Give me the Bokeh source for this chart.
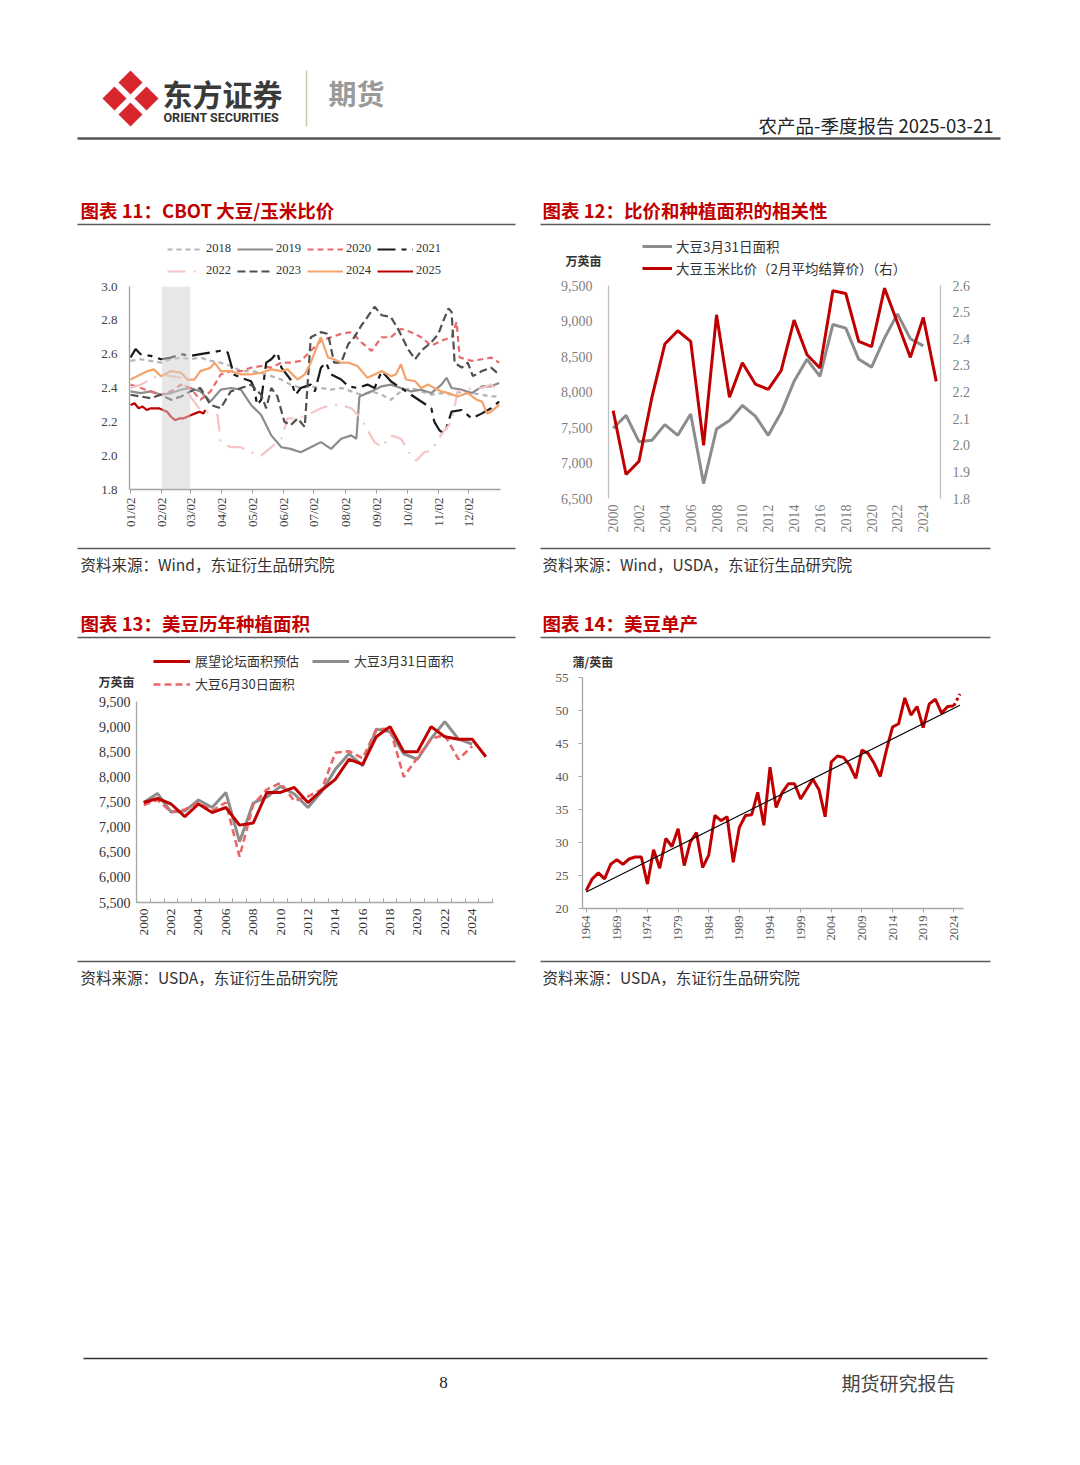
import math
from bokeh.plotting import figure
from bokeh.models import (Range1d, Label, FixedTicker, Legend, LegendItem, BoxAnnotation,
                          NumeralTickFormatter, LinearAxis)
from bokeh.layouts import column, row
from bokeh.embed import file_html
from bokeh.resources import INLINE

CJK = "Noto Sans CJK SC"
SERIF = "Liberation Serif"
RED = "#C00000"
NAN = float("nan")

# ---------------- Chart 11 data: CBOT soybean / corn ratio, by day of year ----------------
month_days = [2, 33, 61, 92, 122, 153, 183, 214, 245, 275, 306, 336]
month_labels = ["01/02", "02/02", "03/02", "04/02", "05/02", "06/02",
                "07/02", "08/02", "09/02", "10/02", "11/02", "12/02"]
shade_days = [33, 61]
ratio_ticks = [1.8, 2.0, 2.2, 2.4, 2.6, 2.8, 3.0]

d2018 = [2, 12, 22, 32, 42, 52, 61, 71, 81, 91, 101, 111, 121, 131, 141, 151, 160, 170, 180, 190,
         200, 210, 220, 230, 240, 250, 259, 269, 279, 289, 299, 309, 319, 329, 339, 349, 358, 366]
v2018 = [2.56, 2.57, 2.56, 2.55, 2.57, 2.58, 2.57, 2.58, 2.56, 2.55, 2.53, 2.50, 2.50, 2.49, 2.47,
         2.45, 2.42, 2.40, 2.41, 2.40, 2.39, 2.40, 2.38, 2.36, 2.38, 2.36, 2.33, 2.38, 2.40, 2.38,
         2.36, 2.37, 2.36, 2.38, 2.37, 2.36, 2.35, 2.35]

d2019 = [2, 12, 22, 32, 42, 52, 61, 71, 81, 91, 101, 111, 121, 131, 141, 151, 160, 170, 180, 190,
         200, 210, 220, 225, 228, 240, 250, 259, 269, 279, 289, 299, 309, 314, 319, 329, 339, 349,
         358, 366]
v2019 = [2.38, 2.37, 2.38, 2.36, 2.37, 2.39, 2.40, 2.38, 2.32, 2.39, 2.40, 2.39, 2.30, 2.24, 2.12,
         2.05, 2.04, 2.02, 2.05, 2.08, 2.04, 2.10, 2.12, 2.10, 2.35, 2.38, 2.41, 2.42, 2.40, 2.38,
         2.39, 2.37, 2.42, 2.46, 2.40, 2.39, 2.37, 2.41, 2.41, 2.43]

d2020 = [2, 12, 22, 32, 42, 52, 61, 71, 81, 91, 101, 111, 121, 131, 141, 151, 160, 170, 180, 190,
         200, 210, 220, 230, 240, 250, 259, 269, 279, 289, 299, 309, 319, 324, 327, 339, 349, 358, 366]
v2020 = [2.42, 2.40, 2.38, 2.36, 2.38, 2.42, 2.40, 2.33, 2.38, 2.48, 2.50, 2.50, 2.52, 2.53, 2.52,
         2.55, 2.55, 2.56, 2.62, 2.68, 2.70, 2.72, 2.73, 2.67, 2.62, 2.70, 2.70, 2.75, 2.73, 2.70,
         2.65, 2.68, 2.70, 2.79, 2.58, 2.56, 2.57, 2.58, 2.55]

d2021 = [2, 7, 12, 22, 32, 42, 52, 61, 71, 81, 91, 98, 104, 111, 121, 124, 127, 131, 136, 141, 147,
         151, 160, 165, 170, 180, 184, 190, 195, 200, 210, 217, 226, 236, 243, 250, 259, 269, 279,
         289, 299, 302, 307, 312, 319, 329, 339, 349, 358, 366]
v2021 = [2.58, 2.63, 2.60, 2.59, 2.57, 2.58, 2.60, 2.59, 2.60, 2.61, 2.62, 2.61, 2.48, 2.46, 2.44,
         2.40, 2.30, 2.33, 2.55, 2.57, 2.61, 2.52, 2.45, 2.36, 2.40, 2.42, 2.38, 2.52, 2.55, 2.48,
         2.45, 2.41, 2.40, 2.42, 2.40, 2.50, 2.44, 2.40, 2.36, 2.32, 2.28, 2.20, 2.15, 2.13, 2.26,
         2.27, 2.22, 2.25, 2.28, 2.32]

d2022 = [2, 12, 22, 32, 42, 52, 61, 71, 81, 88, 91, 101, 111, 121, 131, 141, 151, 157, 167, 180,
         190, 200, 210, 220, 230, 236, 243, 250, 259, 269, 274, 279, 284, 292, 299, 306, 312, 319,
         325, 339, 349, 358, 366]
v2022 = [2.40, 2.42, 2.45, 2.48, 2.47, 2.46, 2.35, 2.27, 2.25, 2.24, 2.08, 2.05, 2.05, 2.02, 2.00,
         2.05, 2.10, 2.22, 2.22, 2.25, 2.28, 2.30, 2.30, 2.28, 2.22, 2.15, 2.08, 2.05, 2.12, 2.10,
         2.05, 2.00, 1.97, 2.02, 2.03, 2.10, 2.15, 2.20, 2.38, 2.40, 2.40, 2.42, 2.38]

d2023 = [2, 12, 22, 32, 42, 52, 61, 71, 81, 91, 101, 111, 121, 131, 136, 141, 147, 154, 160, 167,
         174, 180, 190, 197, 203, 210, 217, 223, 230, 236, 243, 250, 259, 266, 276, 283, 289, 299,
         306, 311, 316, 319, 322, 329, 335, 340, 349, 358, 366]
v2023 = [2.36, 2.35, 2.34, 2.36, 2.33, 2.35, 2.38, 2.40, 2.30, 2.28, 2.38, 2.40, 2.42, 2.36, 2.28,
         2.40, 2.35, 2.20, 2.18, 2.22, 2.17, 2.70, 2.73, 2.72, 2.55, 2.55, 2.66, 2.70, 2.77, 2.82,
         2.88, 2.83, 2.82, 2.75, 2.63, 2.57, 2.62, 2.67, 2.72, 2.80, 2.87, 2.85, 2.55, 2.52, 2.55,
         2.47, 2.50, 2.52, 2.48]

d2024 = [2, 12, 19, 25, 32, 42, 52, 58, 65, 71, 81, 85, 91, 101, 111, 121, 131, 141, 151, 157, 167,
         174, 180, 187, 190, 197, 203, 210, 217, 226, 236, 243, 250, 259, 264, 269, 274, 283, 289,
         296, 302, 309, 316, 325, 335, 344, 349, 354, 358, 366]
v2024 = [2.45, 2.48, 2.50, 2.51, 2.47, 2.50, 2.49, 2.45, 2.45, 2.50, 2.52, 2.55, 2.50, 2.50, 2.48,
         2.48, 2.49, 2.51, 2.50, 2.51, 2.45, 2.48, 2.55, 2.66, 2.70, 2.58, 2.57, 2.55, 2.55, 2.53,
         2.46, 2.48, 2.50, 2.47, 2.48, 2.54, 2.45, 2.44, 2.40, 2.42, 2.40, 2.38, 2.37, 2.35, 2.37,
         2.33, 2.32, 2.25, 2.26, 2.30]

d2025 = [2, 6, 10, 14, 18, 22, 26, 30, 34, 38, 42, 46, 50, 54, 58, 62, 66, 70, 74, 76]
v2025 = [2.30, 2.31, 2.28, 2.29, 2.27, 2.28, 2.28, 2.28, 2.27, 2.26, 2.23, 2.21, 2.22, 2.22, 2.23,
         2.24, 2.25, 2.26, 2.25, 2.27]

# ---------------- Chart 12 / 13 data ----------------
years_00_24 = [2000, 2001, 2002, 2003, 2004, 2005, 2006, 2007, 2008, 2009, 2010, 2011, 2012,
               2013, 2014, 2015, 2016, 2017, 2018, 2019, 2020, 2021, 2022, 2023, 2024]
years_00_25 = years_00_24 + [2025]
area_mar31 = [7490, 7670, 7300, 7320, 7540, 7390, 7690, 6710, 7480, 7600, 7810, 7660, 7390,
              7710, 8150, 8460, 8220, 8950, 8900, 8460, 8350, 8760, 9100, 8750, 8650]
ratio_feb = [2.13, 1.89, 1.94, 2.18, 2.38, 2.43, 2.39, 2.00, 2.49, 2.18, 2.31, 2.23, 2.21,
             2.28, 2.47, 2.34, 2.29, 2.58, 2.57, 2.39, 2.37, 2.59, 2.46, 2.33, 2.48, 2.24]
area_forum = [7490, 7570, 7460, 7210, 7460, 7290, 7390, 7040, 7080, 7690, 7690, 7790, 7490,
              7730, 7950, 8350, 8250, 8800, 9000, 8500, 8500, 9000, 8800, 8750, 8750, 8400]
area_jun30 = [7440, 7540, 7300, 7350, 7480, 7330, 7490, 6410, 7450, 7750, 7880, 7520, 7610,
              7750, 8480, 8510, 8370, 8950, 8960, 8000, 8380, 8760, 8830, 8350, 8610]
area_ticks_12 = [6500, 7000, 7500, 8000, 8500, 9000, 9500]
ratio_ticks_12 = [1.8, 1.9, 2.0, 2.1, 2.2, 2.3, 2.4, 2.5, 2.6]
area_ticks_13 = [5500, 6000, 6500, 7000, 7500, 8000, 8500, 9000, 9500]
even_years = [2000, 2002, 2004, 2006, 2008, 2010, 2012, 2014, 2016, 2018, 2020, 2022, 2024]

# ---------------- Chart 14 data: US soybean yield (bu/acre) ----------------
years_64_24 = [1964, 1965, 1966, 1967, 1968, 1969, 1970, 1971, 1972, 1973, 1974, 1975, 1976,
               1977, 1978, 1979, 1980, 1981, 1982, 1983, 1984, 1985, 1986, 1987, 1988, 1989,
               1990, 1991, 1992, 1993, 1994, 1995, 1996, 1997, 1998, 1999, 2000, 2001, 2002,
               2003, 2004, 2005, 2006, 2007, 2008, 2009, 2010, 2011, 2012, 2013, 2014, 2015,
               2016, 2017, 2018, 2019, 2020, 2021, 2022, 2023, 2024]
yield_bu = [22.7, 24.5, 25.4, 24.5, 26.7, 27.4, 26.7, 27.5, 27.8, 27.8, 23.7, 28.9, 26.1,
            30.6, 29.4, 32.1, 26.5, 30.1, 31.5, 26.2, 28.1, 34.1, 33.3, 33.9, 27.0, 32.3,
            34.1, 34.2, 37.6, 32.6, 41.4, 35.3, 37.6, 38.9, 38.9, 36.6, 38.1, 39.6, 38.0,
            33.9, 42.2, 43.1, 42.9, 41.7, 39.7, 44.0, 43.5, 42.0, 40.0, 44.0, 47.5, 48.0,
            51.9, 49.3, 50.6, 47.4, 51.0, 51.7, 49.6, 50.6, 50.7]
proj_years = [2024, 2025]
proj_yield = [50.7, 52.5]
trend_years = [1964, 2025]
trend_yield = [22.5, 50.8]
yield_ticks = [20, 25, 30, 35, 40, 45, 50, 55]
five_years = [1964, 1969, 1974, 1979, 1984, 1989, 1994, 1999, 2004, 2009, 2014, 2019, 2024]

# ---------------- styles ----------------
STY11 = {"2018": ("#B5B5B5", "5 4"), "2019": ("#8C8C8C", "solid"), "2020": ("#E86A6C", "6 4"),
         "2021": ("#1A1A1A", "18 6 5 6"), "2022": ("#F6C4C4", "18 8 2 8"),
         "2023": ("#505050", "8 4"), "2024": ("#F5A36C", "solid"), "2025": (RED, "solid")}
GRAY = "#8C8C8C"
PINK = "#E8686A"


# ---------------- helpers ----------------
def no_align(p):
    if "frame_align" in p.properties():
        p.frame_align = False


def text_fig(x0, y0, w, h):
    p = figure(width=w, height=h, x_range=Range1d(x0, x0 + w), y_range=Range1d(y0 + h, y0),
               x_axis_type=None, y_axis_type=None, output_backend="svg",
               toolbar_location=None, min_border=0, title=None)
    p.outline_line_color = None
    no_align(p)
    return p


def txt(p, x, y, s, size, color="#222222", font=CJK, style="normal", align="left"):
    p.add_layout(Label(x=x, y=y, text=s, text_font=font, text_font_size=f"{size}px",
                       text_color=color, text_font_style=style, text_align=align,
                       text_baseline="middle"))


def hline(p, x0, x1, y, color="#555555", w=1.5):
    p.segment(x0=[x0], y0=[y], x1=[x1], y1=[y], line_color=color, line_width=w)


def chart_fig(w, h, l, r, t, b, xr, yr):
    p = figure(width=w, height=h, x_range=xr, y_range=yr, min_border_left=l,
               min_border_right=r, min_border_top=t, min_border_bottom=b,
               output_backend="svg", toolbar_location=None, title=None)
    p.outline_line_color = None
    p.grid.visible = False
    no_align(p)
    return p


def style_axis(ax, size, color, line_color, standoff, tick_out=0, tick_in=0):
    ax.major_label_text_font = SERIF
    ax.major_label_text_font_size = f"{size}px"
    ax.major_label_text_color = color
    ax.axis_line_color = line_color
    ax.axis_line_width = 1.3
    ax.major_tick_line_color = line_color
    ax.major_tick_out = tick_out
    ax.major_tick_in = tick_in
    ax.minor_tick_line_color = None
    ax.major_label_standoff = standoff


def legend_in(p, entries, loc, glyph_w, size, font, spacing, orientation="horizontal",
              standoff=4, item_h=14):
    # legend keys use the same line styles as the chart series (no visible data of their own)
    items = []
    for lab, color, dash, width in entries:
        r = p.line(x=[NAN], y=[NAN], line_color=color, line_dash=dash, line_width=width)
        items.append(LegendItem(label=lab, renderers=[r]))
    p.add_layout(Legend(items=items, location=loc, orientation=orientation,
                        border_line_color=None, background_fill_alpha=0, padding=0, margin=0,
                        spacing=spacing, glyph_width=glyph_w, glyph_height=item_h,
                        label_height=item_h, label_standoff=standoff, label_text_font=font,
                        label_text_font_size=f"{size}px", label_text_color="#333333"))


# ---------------- header band (page y 0..278) ----------------
hdr = text_fig(0, 0, 1072, 278)
hdr.scatter(x=[130, 114, 146, 130], y=[82, 98, 98, 114], marker="square", size=17,
            angle=math.pi / 4, fill_color="#D7262D", line_color=None)
txt(hdr, 162, 92, "东方证券", 30, "#3A3A3A", style="bold")
txt(hdr, 163, 117, "ORIENT SECURITIES", 12.5, "#333333", font="Roboto", style="bold")
hdr.segment(x0=[306], y0=[70], x1=[306], y1=[126], line_color="#CFC6AE", line_width=1.5)
txt(hdr, 328, 92, "期货", 28, "#9A9A9A", style="bold")
txt(hdr, 993, 124, "农产品-季度报告 2025-03-21", 18.5, "#222222", align="right")
hline(hdr, 77, 1000, 138, "#555555", 2.5)
txt(hdr, 80, 209, "图表 11：CBOT 大豆/玉米比价", 18.5, RED, style="bold")
txt(hdr, 542, 209, "图表 12：比价和种植面积的相关性", 18.5, RED, style="bold")
hline(hdr, 77, 515, 224, "#595959", 1.5)
hline(hdr, 540, 990, 224, "#595959", 1.5)
legend_in(hdr, [(l, STY11[l][0], STY11[l][1], 2.2) for l in ["2018", "2019", "2020", "2021"]],
          (167, 22), 36, 12.5, SERIF, 6, standoff=3)
legend_in(hdr, [(l, STY11[l][0], STY11[l][1], 2.2) for l in ["2022", "2023", "2024", "2025"]],
          (167, 0), 36, 12.5, SERIF, 6, standoff=3)
txt(hdr, 565, 260, "万英亩", 12, "#333333", style="bold")
legend_in(hdr, [("大豆3月31日面积", GRAY, "solid", 3),
                ("大豆玉米比价（2月平均结算价）（右）", RED, "solid", 3)],
          (642, 0), 30, 13.5, CJK, 2, orientation="vertical", standoff=4, item_h=18)

# ---------------- chart 11 (page x 0..536, y 278..540) ----------------
p11 = chart_fig(536, 262, 129, 36, 8, 51, Range1d(1.0, 367.3), Range1d(1.8, 3.0))
series11 = [("2018", d2018, v2018), ("2019", d2019, v2019), ("2020", d2020, v2020),
            ("2021", d2021, v2021), ("2022", d2022, v2022), ("2023", d2023, v2023),
            ("2024", d2024, v2024), ("2025", d2025, v2025)]
for lab, d, v in series11:
    p11.line(d, v, line_color=STY11[lab][0], line_width=2.2, line_dash=STY11[lab][1])
p11.add_layout(BoxAnnotation(left=shade_days[0], right=shade_days[1], fill_color="#CFCFCF",
                             fill_alpha=0.5, line_color=None))
p11.xaxis.ticker = FixedTicker(ticks=month_days)
p11.xaxis.major_label_overrides = {d: s for d, s in zip(month_days, month_labels)}
p11.xaxis.major_label_orientation = math.pi / 2
p11.yaxis.ticker = FixedTicker(ticks=ratio_ticks)
p11.yaxis.formatter = NumeralTickFormatter(format="0.0")
style_axis(p11.xaxis[0], 13, "#404040", "#A0A0A0", 4, tick_out=4)
style_axis(p11.yaxis[0], 13, "#404040", "#A0A0A0", 12)

# ---------------- chart 12 (page x 536..1072, y 278..540) ----------------
p12 = chart_fig(536, 262, 72, 132, 7, 42, Range1d(1999.64, 2025.33), Range1d(6500, 9500))
p12.extra_y_ranges = {"ratio": Range1d(1.8, 2.6)}
rax = LinearAxis(y_range_name="ratio")
p12.add_layout(rax, "right")
p12.line(years_00_24, area_mar31, line_color=GRAY, line_width=3)
p12.line(years_00_25, ratio_feb, line_color=RED, line_width=3, y_range_name="ratio")
p12.xaxis.ticker = FixedTicker(ticks=even_years)
p12.xaxis.major_label_overrides = {y: str(y) for y in even_years}
p12.xaxis.major_label_orientation = math.pi / 2
style_axis(p12.xaxis[0], 14, "#7F7F7F", None, 6)
p12.yaxis[0].ticker = FixedTicker(ticks=area_ticks_12)
p12.yaxis[0].formatter = NumeralTickFormatter(format="0,0")
style_axis(p12.yaxis[0], 14, "#7F7F7F", "#BFBFBF", 16)
rax.ticker = FixedTicker(ticks=ratio_ticks_12)
rax.formatter = NumeralTickFormatter(format="0.0")
style_axis(rax, 14, "#7F7F7F", "#BFBFBF", 12)

# ---------------- band left (page x 0..536, y 540..693) ----------------
b2l = text_fig(0, 540, 536, 153)
hline(b2l, 77, 515, 548, "#595959", 1.5)
txt(b2l, 80, 563, "资料来源：Wind，东证衍生品研究院", 15.5, "#333333")
txt(b2l, 80, 622, "图表 13：美豆历年种植面积", 18.5, RED, style="bold")
hline(b2l, 77, 515, 637, "#595959", 1.5)
txt(b2l, 98, 681, "万英亩", 12, "#333333", style="bold")
legend_in(b2l, [("展望论坛面积预估", RED, "solid", 3), ("大豆3月31日面积", GRAY, "solid", 3)],
          (153, 23), 37, 13, CJK, 13, standoff=5, item_h=18)
legend_in(b2l, [("大豆6月30日面积", PINK, "7 4", 2.6)],
          (153, 0), 37, 13, CJK, 13, standoff=5, item_h=18)

# ---------------- band right (page x 536..1072, y 540..670) ----------------
b2r = text_fig(536, 540, 536, 130)
hline(b2r, 540, 990, 548, "#595959", 1.5)
txt(b2r, 542, 563, "资料来源：Wind，USDA，东证衍生品研究院", 15.5, "#333333")
txt(b2r, 542, 622, "图表 14：美豆单产", 18.5, RED, style="bold")
hline(b2r, 540, 990, 637, "#595959", 1.5)
txt(b2r, 572, 661, "蒲/英亩", 12, "#333333", style="bold")

# ---------------- chart 13 (page x 0..536, y 693..955) ----------------
p13 = chart_fig(536, 262, 136, 43, 8, 53, Range1d(1999.47, 2025.56), Range1d(5500, 9500))
p13.line(years_00_24, area_mar31, line_color=GRAY, line_width=3)
p13.line(years_00_24, area_jun30, line_color=PINK, line_width=2.6, line_dash="7 4")
p13.line(years_00_25, area_forum, line_color=RED, line_width=3)
p13.xaxis.ticker = FixedTicker(ticks=even_years,
                               minor_ticks=[y - 0.5 for y in years_00_25] + [2025.5])
p13.xaxis.major_label_overrides = {y: str(y) for y in even_years}
p13.xaxis.major_label_orientation = math.pi / 2
style_axis(p13.xaxis[0], 13.5, "#333333", "#A6A6A6", 6)
p13.xaxis.minor_tick_line_color = "#A6A6A6"
p13.xaxis.minor_tick_in = 4
p13.xaxis.minor_tick_out = 0
p13.yaxis.ticker = FixedTicker(ticks=area_ticks_13)
p13.yaxis.formatter = NumeralTickFormatter(format="0,0")
style_axis(p13.yaxis[0], 14, "#333333", "#A6A6A6", 6)

# ---------------- chart 14 (page x 536..1072, y 670..955) ----------------
p14 = chart_fig(536, 285, 46, 109, 7, 47, Range1d(1963.4, 2025.58), Range1d(20, 55))
p14.line(years_64_24, yield_bu, line_color=RED, line_width=3)
p14.line(proj_years, proj_yield, line_color=RED, line_width=3, line_dash="3 3")
p14.line(trend_years, trend_yield, line_color="#000000", line_width=1.2)
p14.xaxis.ticker = FixedTicker(ticks=five_years)
p14.xaxis.major_label_overrides = {y: str(y) for y in five_years}
p14.xaxis.major_label_orientation = math.pi / 2
style_axis(p14.xaxis[0], 12.5, "#595959", "#A6A6A6", 3, tick_out=4)
p14.yaxis.ticker = FixedTicker(ticks=yield_ticks)
style_axis(p14.yaxis[0], 13, "#595959", "#A6A6A6", 10, tick_out=4)

# ---------------- bottom band (page y 955..1458) ----------------
bot = text_fig(0, 955, 1072, 503)
hline(bot, 77, 515, 961, "#595959", 1.5)
hline(bot, 540, 990, 961, "#595959", 1.5)
txt(bot, 80, 976, "资料来源：USDA，东证衍生品研究院", 15.5, "#333333")
txt(bot, 542, 976, "资料来源：USDA，东证衍生品研究院", 15.5, "#333333")
hline(bot, 83, 987, 1358, "#333333", 1.5)
txt(bot, 443, 1382, "8", 17, "#222222", font=SERIF, align="center")
txt(bot, 955, 1382, "期货研究报告", 19, "#444444", align="right")

layout = column(hdr, row(p11, p12), row(column(b2l, p13), column(b2r, p14)), bot)
open("out.html", "w").write(file_html(layout, INLINE, title="农产品-季度报告"))
